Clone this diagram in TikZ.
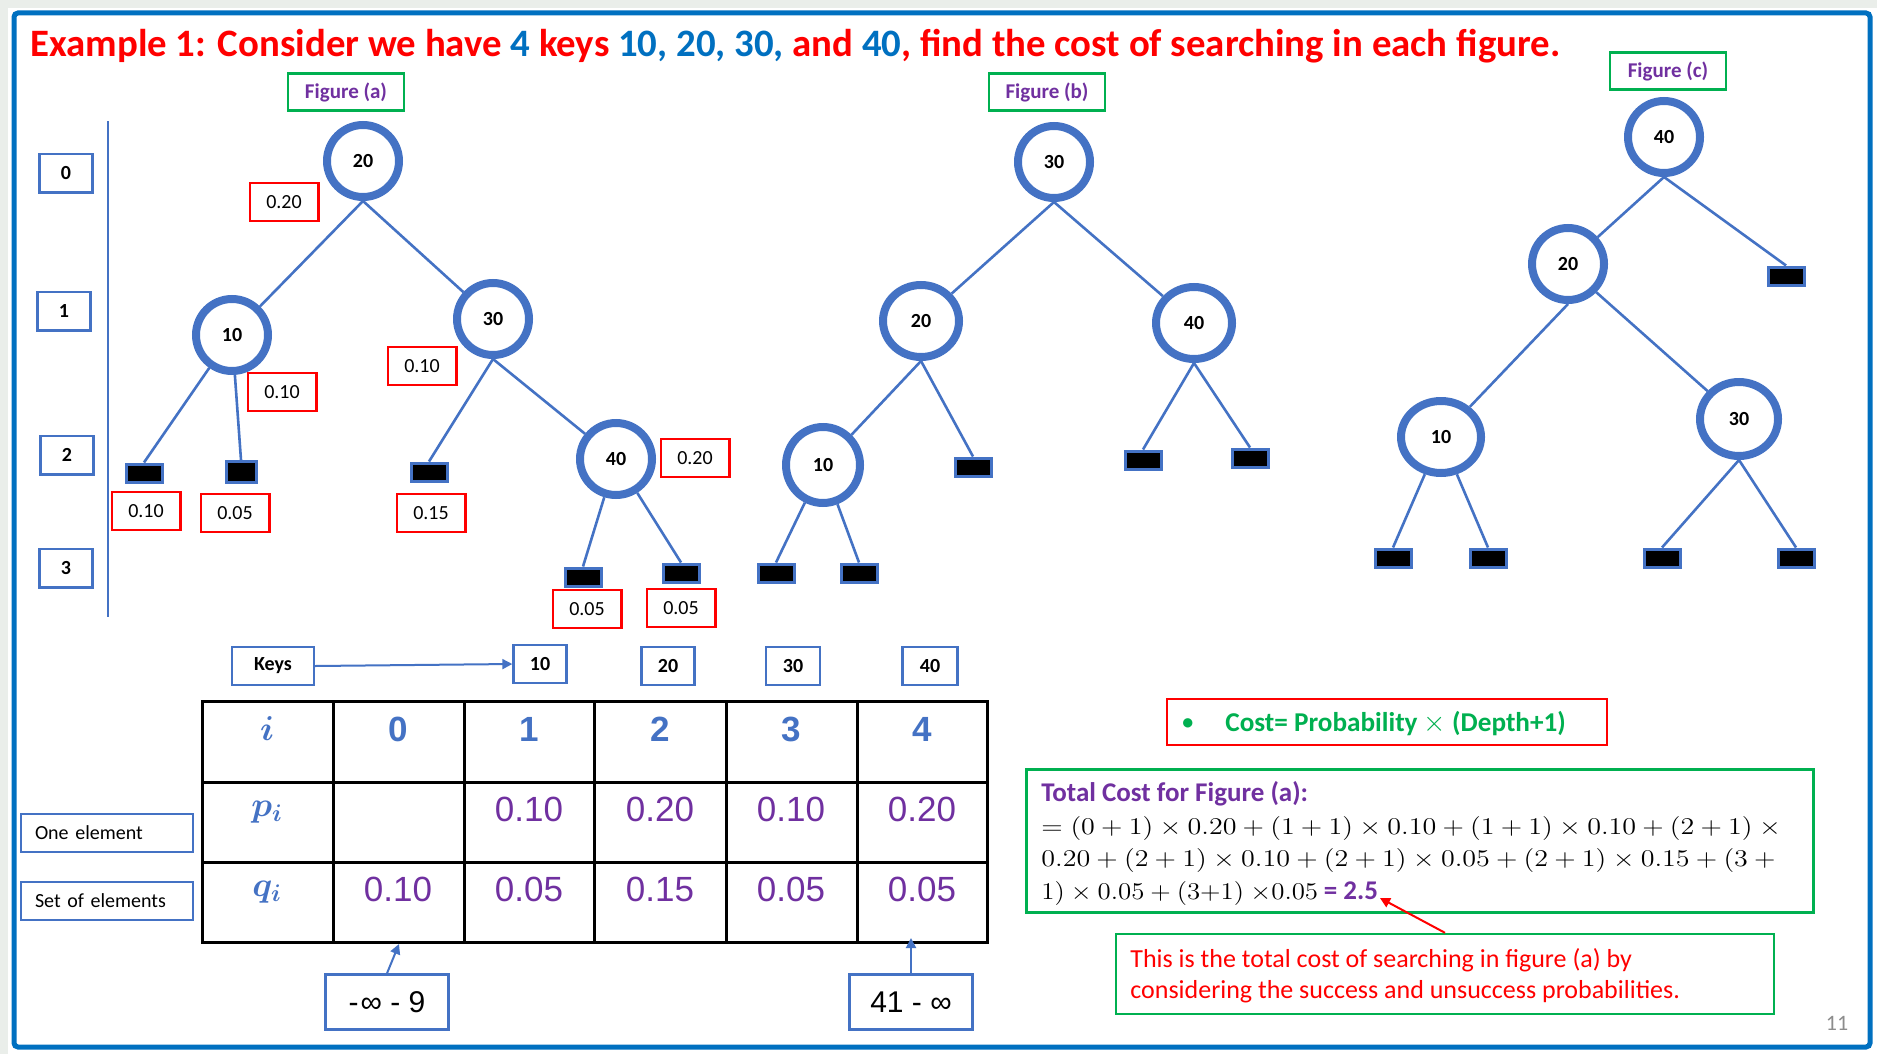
\documentclass[tikz,border=0pt]{standalone}
\usepackage{fontspec}
\setmainfont{Carlito}
\newfontfamily\arialf{Liberation Sans}
\usetikzlibrary{shapes.geometric,arrows.meta,calc}
\definecolor{tblue}{HTML}{4472C4}
\definecolor{fblue}{HTML}{0070C0}
\definecolor{tred}{HTML}{FF0000}
\definecolor{tgreen}{HTML}{00B050}
\definecolor{tpurple}{HTML}{7030A0}
\definecolor{pgray}{HTML}{8C8C8C}
\definecolor{marginbg}{HTML}{EAEEEA}
\newcommand\fsz[1]{\fontsize{#1pt}{#1pt}\selectfont}
\newcommand\wide[2][1.17]{\scalebox{#1}[1]{#2}}
\tikzset{
  tn/.style={ellipse, draw=tblue, line width=4pt, minimum width=36pt, minimum height=36pt,
             inner sep=0pt, font=\bfseries\fsz{10}},
  leaf/.style={draw=tblue, fill=black, line width=1.5pt, minimum width=18pt, minimum height=9pt, inner sep=0pt},
  pbox/.style={draw=tred, line width=1.2pt, minimum width=34.3pt, minimum height=19pt, inner sep=0pt, font=\fsz{10}},
  lvl/.style={draw=tblue, line width=1.2pt, minimum width=26.5pt, minimum height=19.3pt, inner sep=0pt, font=\bfseries\fsz{10}},
  figbox/.style={draw=tgreen, line width=1.2pt, minimum width=58pt, minimum height=18.5pt, inner sep=0pt,
                 font=\bfseries\fsz{10.5}, text=tpurple},
  kbox/.style={draw=tblue, line width=1.2pt, minimum height=19pt, inner sep=0pt, font=\bfseries\fsz{10}},
  tedge/.style={draw=tblue, line width=1.3pt},
  arr/.style={draw=tblue, line width=1pt, -{Triangle[length=5pt,width=5pt]}},
  hdr/.style={font=\arialf\bfseries\fsz{17.5}, text=tblue, inner sep=0pt},
  val/.style={font=\arialf\fsz{17.5}, text=tpurple, inner sep=0pt},
  sym/.style={font=\fsz{18}\boldmath, text=tblue, inner sep=0pt},
}
\begin{document}
\begin{tikzpicture}[x=0.5pt,y=-0.5pt]
\useasboundingbox (0,0) rectangle (1877,1054);
% page and frame
\fill[white] (0,0) rectangle (1877,1054);
\fill[marginbg] (0,0) rectangle (1877,8);
\fill[marginbg] (0,0) rectangle (8,1054);
\draw[fblue, line width=2.5pt, rounded corners=2pt] (14,13) rectangle (1870,1047);

% heading
\node[anchor=base west, inner sep=0pt, font=\bfseries\fsz{19.4}, text=tred] (title) at (30,57)
  {Example 1: Consider we have \textcolor{fblue}{4} keys \textcolor{fblue}{10, 20, 30,} and \textcolor{fblue}{40}, find the cost of searching in each figure.};

% ---------- tree (a) ----------
\node[figbox] (figa) at (346,92) {Figure (a)};
\node[lvl] (l0) at (66,173) {0};
\node[lvl] (l1) at (64,311) {1};
\node[lvl] (l2) at (67,455) {2};
\node[lvl] (l3) at (66,568) {3};
\coordinate (vtop) at (108,121);
\coordinate (vbot) at (108,617);
\draw[tblue, line width=1pt] (vtop) -- (vbot);

\node[tn] (a20) at (363,161) {20};
\node[tn] (a10) at (232,335) {10};
\node[tn] (a30) at (493,319) {30};
\node[tn] (a40) at (616,459) {40};
\node[leaf] (aL1) at (144,473) {};
\node[leaf, minimum width=15pt, minimum height=10.5pt] (aL2) at (241,472) {};
\node[leaf] (aL3) at (429,472) {};
\node[leaf] (aL4) at (583,577) {};
\node[leaf] (aL5) at (681,573) {};
\draw[tedge] (a20.south) -- (a10);
\draw[tedge] (a20.south) -- (a30);
\draw[tedge] (a30.south) -- (a40);
\draw[tedge] (a10) -- (aL1.north);
\draw[tedge] (a10) -- (aL2.north);
\draw[tedge] (a30.south) -- (aL3.north);
\draw[tedge] (a40) -- (aL4.north);
\draw[tedge] (a40) -- (aL5.north);
\node[pbox] (pa20) at (284,202) {0.20};
\node[pbox] (pa10) at (282,392) {0.10};
\node[pbox] (pa30) at (422,366) {0.10};
\node[pbox] (pa40) at (695,458) {0.20};
\node[pbox] (pl1) at (146,511) {0.10};
\node[pbox] (pl2) at (235,513) {0.05};
\node[pbox] (pl3) at (431,513) {0.15};
\node[pbox] (pl4) at (587,609) {0.05};
\node[pbox] (pl5) at (681,608) {0.05};

% ---------- tree (b) ----------
\node[figbox] (figb) at (1047,92) {Figure (b)};
\node[tn] (b30) at (1054,162) {30};
\node[tn, minimum width=38pt] (b20) at (921,321) {20};
\node[tn, minimum width=38pt] (b40) at (1194,323) {40};
\node[tn, minimum width=37pt, minimum height=38pt] (b10) at (823,465) {10};
\node[leaf] (bL1) at (776,573) {};
\node[leaf] (bL2) at (859,573) {};
\node[leaf] (bL3) at (973,467) {};
\node[leaf] (bL4) at (1143,460) {};
\node[leaf] (bL5) at (1250,458) {};
\draw[tedge] (b30.south) -- (b20);
\draw[tedge] (b30.south) -- (b40);
\draw[tedge] (b20.south) -- (b10);
\draw[tedge] (b20.south) -- (bL3.north);
\draw[tedge] (b10) -- (bL1.north);
\draw[tedge] (b10) -- (bL2.north);
\draw[tedge] (b40.south) -- (bL4.north);
\draw[tedge] (b40.south) -- (bL5.north);

% ---------- tree (c) ----------
\node[figbox] (figc) at (1668,71) {Figure (c)};
\node[tn] (c40) at (1664,137) {40};
\node[tn] (c20) at (1568,264) {20};
\node[tn, minimum width=40pt] (c10) at (1441,437) {10};
\node[tn, minimum width=39pt, minimum height=37pt] (c30) at (1739,419) {30};
\node[leaf] (cR) at (1786,276) {};
\node[leaf] (cL1) at (1393,558) {};
\node[leaf] (cL2) at (1488,558) {};
\node[leaf] (cL3) at (1662,558) {};
\node[leaf] (cL4) at (1796,558) {};
\draw[tedge] (c40.south) -- (c20);
\draw[tedge] (c40.south) -- (cR.north);
\draw[tedge] (c20.south) -- (c10);
\draw[tedge] (c20.south east) -- (c30);
\draw[tedge] (c10) -- (cL1.north);
\draw[tedge] (c10) -- (cL2.north);
\draw[tedge] (c30.south) -- (cL3.north);
\draw[tedge] (c30.south) -- (cL4.north);

% ---------- keys and probability table ----------
\node[kbox, minimum width=41pt] (keys) at (273,666) {Keys};
\node[kbox, minimum width=26.5pt] (k10) at (540,664) {10};
\node[kbox, minimum width=26.5pt] (k20) at (668,666) {20};
\node[kbox, minimum width=27pt] (k30) at (793,666) {30};
\node[kbox, minimum width=27.5pt] (k40) at (930,666) {40};
\draw[arr] (keys.east) -- (k10.west);

\draw[line width=1.5pt] (202,701) rectangle (987,942);
\foreach \cx in {333,464,594,726,857} \draw[line width=1.5pt] (\cx,701) -- (\cx,942);
\foreach \cy in {782,862} \draw[line width=1.5pt] (202,\cy) -- (987,\cy);

\node[sym] (hi) at (267,729) {$i$};
\node[sym] (hp) at (267,812) {$p_i$};
\node[sym] (hq) at (267,892) {$q_i$};
\node[hdr] (h0) at (398,729) {0};
\node[hdr] (h1) at (529,729) {1};
\node[hdr] (h2) at (660,729) {2};
\node[hdr] (h3) at (791,729) {3};
\node[hdr] (h4) at (922,729) {4};
\node[val] (p1) at (529,809) {0.10};
\node[val] (p2) at (660,809) {0.20};
\node[val] (p3) at (791,809) {0.10};
\node[val] (p4) at (922,809) {0.20};
\node[val] (q0) at (398,889) {0.10};
\node[val] (q1) at (529,889) {0.05};
\node[val] (q2) at (660,889) {0.15};
\node[val] (q3) at (791,889) {0.05};
\node[val] (q4) at (922,889) {0.05};

\node[draw=tblue, line width=1.2pt, minimum width=86pt, minimum height=19pt, inner sep=0pt,
      text width=72pt, inner xsep=7pt, align=left, font=\fsz{10}] (one) at (107,833) {One element};
\node[draw=tblue, line width=1.2pt, minimum width=86pt, minimum height=19pt, inner sep=0pt,
      text width=72pt, inner xsep=7pt, align=left, font=\fsz{10}] (set) at (107,901) {Set of elements};

\node[draw=tblue, line width=1.2pt, minimum width=61.5pt, minimum height=27.5pt, inner sep=0pt,
      font=\arialf\fsz{15}] (infL) at (387,1002) {-\kern1pt∞ - 9};
\node[draw=tblue, line width=1.2pt, minimum width=61.5pt, minimum height=27.5pt, inner sep=0pt,
      font=\arialf\fsz{15}] (infR) at (911,1002) {41 - ∞};
\coordinate (tbL) at (399,944);
\coordinate (tbR) at (911,938);
\draw[arr] (infL.north) -- (tbL);
\draw[arr] (infR.north) -- (tbR);

% ---------- cost formula and total ----------
\node[draw=tred, line width=1.2pt, minimum width=220pt, minimum height=23pt, inner sep=0pt] (cost) at (1387,722) {};
\node[anchor=base west, inner sep=0pt, font=\bfseries\fsz{11}, text=tgreen] (bul) at (1182,729) {•};
\node[anchor=base west, inner sep=0pt, font=\bfseries\fsz{13.6}, text=tgreen] (costtxt) at (1225,731)
  {Cost= Probability {\mdseries$\times$} (Depth+1)};

\node[draw=tgreen, line width=1.2pt, minimum width=393.5pt, minimum height=71.5pt, inner sep=0pt] (total) at (1420,841) {};
\node[anchor=base west, inner sep=0pt, font=\bfseries\fsz{13.5}, text=tpurple] (tl1) at (1041,801) {Total Cost for Figure (a):};
\node[anchor=base west, inner sep=0pt, font=\fsz{12.5}] (tl2) at (1041,834)
  {\wide{$= (0 + 1) \times 0.20 + (1 + 1) \times 0.10 + (1 + 1) \times 0.10 + (2 + 1) \times{}$}};
\node[anchor=base west, inner sep=0pt, font=\fsz{12.5}] (tl3) at (1041,866)
  {\wide{$0.20 + (2 + 1) \times 0.10 + (2 + 1) \times 0.05 + (2 + 1) \times 0.15 + (3 +{}$}};
\node[anchor=base west, inner sep=0pt, font=\fsz{12.5}] (tl4) at (1041,899)
  {\wide[1.12]{$1) \times 0.05 + (3{+}1)\ {\times}0.05$} {\bfseries\fsz{13.5}\color{tpurple}= 2.5}};

\node[draw=tgreen, line width=1.2pt, minimum width=329pt, minimum height=40pt, inner sep=0pt] (note) at (1445,974) {};
\node[anchor=base west, inner sep=0pt, font=\fsz{13}, text=tred, align=left] (notetxt) at (1130,967)
  {This is the total cost of searching in figure (a) by};
\node[anchor=base west, inner sep=0pt, font=\fsz{13}, text=tred, align=left] (notetxt2) at (1130,998)
  {considering the success and unsuccess probabilities.};
\coordinate (res) at (1380,898);
\draw[tred, line width=1pt, -{Triangle[length=5pt,width=5pt]}] (note.north) -- (res);

\node[font=\fsz{11}, text=pgray, inner sep=0pt] (pnum) at (1837,1023) {11};
\end{tikzpicture}
\end{document}
